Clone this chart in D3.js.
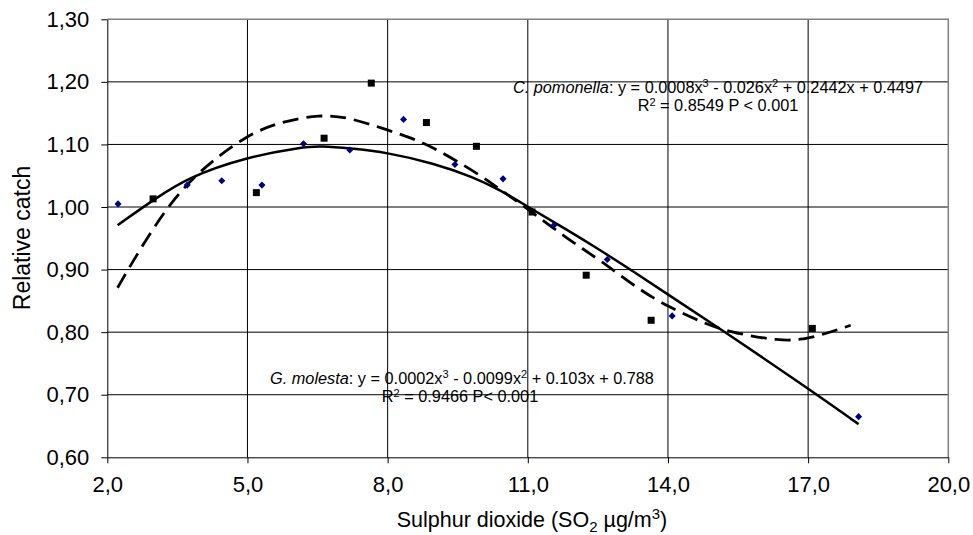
<!DOCTYPE html>
<html lang="en">
<head>
    <meta charset="UTF-8">
    <title>Relative catch vs sulphur dioxide</title>
    <script src="https://d3js.org/d3.v7.min.js"></script>
    <style>
        body {
            margin: 0;
            background: #fff;
        }
        svg text {
            font-family: "Liberation Sans", Arial, sans-serif;
            fill: #000;
        }
        .tick text {
            font-size: 22px;
        }
        .grid line {
            stroke: #000;
            stroke-width: 1px;
        }
        .note {
            font-size: 16.3px;
        }
    </style>
</head>
<body>
    <svg id="chart" width="973" height="535"></svg>
    <script>
        // Axis ticks
        const xTicks = [2, 5, 8, 11, 14, 17, 20];
        const yTicks = [0.6, 0.7, 0.8, 0.9, 1.0, 1.1, 1.2, 1.3];

        // G. molesta observations (blue diamonds)
        const molestaX = [2.23, 3.71, 4.45, 5.31, 6.20, 7.19, 8.34, 9.44, 10.47, 11.56, 12.70, 14.09, 18.08];
        const molestaY = [1.005, 1.035, 1.042, 1.035, 1.101, 1.091, 1.140, 1.068, 1.045, 0.971, 0.916, 0.826, 0.665];

        // C. pomonella observations (black squares)
        const pomonellaX = [2.98, 5.19, 6.64, 7.65, 8.83, 9.90, 11.09, 12.25, 13.64, 17.09];
        const pomonellaY = [1.013, 1.023, 1.110, 1.198, 1.135, 1.097, 0.992, 0.891, 0.819, 0.806];

        // Trend line for G. molesta (solid)
        const molestaFitX = [2.22, 3.0, 3.71, 4.98, 6.2, 6.55, 7.19, 8.0, 8.98, 9.83, 10.41, 11.0, 11.83, 12.55, 13.26, 14.0, 15.11, 17.04, 18.08];
        const molestaFitY = [0.971, 1.012, 1.047, 1.080, 1.096, 1.0975, 1.094, 1.087, 1.070, 1.048, 1.027, 1.0005, 0.964, 0.931, 0.897, 0.860, 0.806, 0.708, 0.653];

        // Trend line for C. pomonella (dashed)
        const pomonellaFitX = [2.22, 2.56, 3.27, 3.98, 4.98, 5.70, 6.55, 7.19, 8.0, 8.76, 9.33, 9.98, 10.41, 11.0, 11.83, 12.55, 13.4, 14.0, 14.69, 15.26, 16.4, 17.04, 17.91];
        const pomonellaFitY = [0.871, 0.915, 1.0005, 1.059, 1.115, 1.136, 1.148, 1.143, 1.123, 1.104, 1.080, 1.051, 1.028, 0.997, 0.950, 0.915, 0.867, 0.841, 0.817, 0.801, 0.785, 0.789, 0.811];

        const svg = d3.select("#chart");
        const plotLeft = 107.3, plotTop = 19.3, plotRight = 948.3, plotBottom = 457.3;

        const x = d3.scaleLinear().domain([2, 20]).range([plotLeft, plotRight]);
        const y = d3.scaleLinear().domain([0.6, 1.3]).range([plotBottom, plotTop]);

        const comma = (d, n) => d.toFixed(n).replace(".", ",");

        // Grid lines
        const grid = svg.append("g").attr("class", "grid");
        grid.selectAll(".h")
            .data(yTicks.slice(1, -1))
            .enter()
            .append("line")
            .attr("x1", plotLeft).attr("x2", plotRight)
            .attr("y1", d => y(d)).attr("y2", d => y(d));
        grid.selectAll(".v")
            .data(xTicks.slice(1, -1))
            .enter()
            .append("line")
            .attr("y1", plotTop).attr("y2", plotBottom)
            .attr("x1", d => x(d)).attr("x2", d => x(d));

        // Plot frame (top and right in grey)
        svg.append("path")
            .attr("d", `M${plotLeft},${plotTop}H${plotRight}V${plotBottom}`)
            .attr("fill", "none")
            .attr("stroke", "#808080")
            .attr("stroke-width", 1.5);

        // Axes
        svg.append("g")
            .attr("transform", `translate(0,${plotBottom})`)
            .call(d3.axisBottom(x).tickValues(xTicks).tickFormat(d => comma(d, 1))
                .tickSize(6).tickSizeOuter(0).tickPadding(13));
        svg.append("g")
            .attr("transform", `translate(${plotLeft},0)`)
            .call(d3.axisLeft(y).tickValues(yTicks).tickFormat(d => comma(d, 2))
                .tickSize(6).tickSizeOuter(0).tickPadding(12));
        svg.selectAll(".domain").attr("stroke", "#000");
        svg.selectAll(".tick line").attr("stroke", "#000");

        // Trend lines
        const line = d3.line().curve(d3.curveBasis);
        svg.append("path")
            .attr("d", line(molestaFitX.map((d, i) => [x(d), y(molestaFitY[i])])))
            .attr("fill", "none")
            .attr("stroke", "#000")
            .attr("stroke-width", 2.5);
        svg.append("path")
            .attr("d", line(pomonellaFitX.map((d, i) => [x(d), y(pomonellaFitY[i])])))
            .attr("fill", "none")
            .attr("stroke", "#000")
            .attr("stroke-width", 2.8)
            .attr("stroke-dasharray", "16,8");

        // Markers
        svg.selectAll(".diamond")
            .data(molestaX)
            .enter()
            .append("path")
            .attr("d", d3.symbol(d3.symbolDiamond2, 32))
            .attr("transform", (d, i) => `translate(${x(d)},${y(molestaY[i])})`)
            .attr("fill", "#000080");
        svg.selectAll(".square")
            .data(pomonellaX)
            .enter()
            .append("rect")
            .attr("x", d => x(d) - 3.5)
            .attr("y", (d, i) => y(pomonellaY[i]) - 3.5)
            .attr("width", 7)
            .attr("height", 7)
            .attr("fill", "#000");

        // Axis titles
        svg.append("text")
            .attr("x", 532)
            .attr("y", 527)
            .attr("text-anchor", "middle")
            .style("font-size", "21.5px")
            .html('Sulphur dioxide (SO<tspan font-size="15" dy="5">2</tspan><tspan dy="-5"> µg/m</tspan><tspan font-size="15" dy="-8">3</tspan><tspan dy="8">)</tspan>');
        svg.append("text")
            .attr("transform", "translate(30,238) rotate(-90)")
            .attr("text-anchor", "middle")
            .style("font-size", "23px")
            .text("Relative catch");

        // Equations
        svg.append("text").attr("class", "note").attr("x", 718).attr("y", 93).attr("text-anchor", "middle")
            .html('<tspan font-style="italic">C. pomonella</tspan>: y = 0.0008x<tspan font-size="11" dy="-6">3</tspan><tspan dy="6"> - 0.026x</tspan><tspan font-size="11" dy="-6">2</tspan><tspan dy="6"> + 0.2442x + 0.4497</tspan>');
        svg.append("text").attr("class", "note").attr("x", 718).attr("y", 111).attr("text-anchor", "middle")
            .html('R<tspan font-size="11" dy="-5">2</tspan><tspan dy="5"> = 0.8549 P &lt; 0.001</tspan>');

        svg.append("text").attr("class", "note").attr("x", 462).attr("y", 384).attr("text-anchor", "middle")
            .html('<tspan font-style="italic">G. molesta</tspan>: y = 0.0002x<tspan font-size="11" dy="-6">3</tspan><tspan dy="6"> - 0.0099x</tspan><tspan font-size="11" dy="-6">2</tspan><tspan dy="6"> + 0.103x + 0.788</tspan>');
        svg.append("text").attr("class", "note").attr("x", 460).attr("y", 402).attr("text-anchor", "middle")
            .html('R<tspan font-size="11" dy="-5">2</tspan><tspan dy="5"> = 0.9466 P&lt; 0.001</tspan>');
    </script>
</body>
</html>
